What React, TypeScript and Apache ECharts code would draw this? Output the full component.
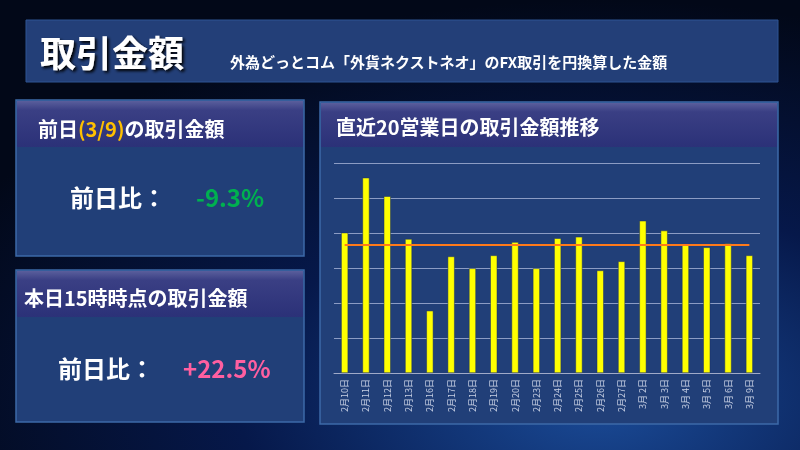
import { useRef, useEffect } from 'react';
import * as echarts from 'echarts';

const categories = [
  '2月10日', '2月11日', '2月12日', '2月13日', '2月16日', '2月17日', '2月18日', '2月19日', '2月20日', '2月23日',
  '2月24日', '2月25日', '2月26日', '2月27日', '3月 2日', '3月 3日', '3月 4日', '3月 5日', '3月 6日', '3月 9日',
];
const amounts = [4.01, 5.58, 5.05, 3.83, 1.78, 3.33, 2.99, 3.36, 3.74, 2.99, 3.85, 3.89, 2.93, 3.19, 4.35, 4.07, 3.67, 3.59, 3.70, 3.36];
const averageValue = 3.66;
const averageLine = categories.map(() => averageValue);

const FONT = '"Noto Sans CJK JP", sans-serif';

function panel(x: number, y: number, w: number, h: number, headH: number) {
  return [
    {
      type: 'rect',
      shape: { x, y, width: w, height: h },
      style: { fill: '#213f78', stroke: '#3c6aa8', lineWidth: 1.5 },
    },
    {
      type: 'rect',
      shape: { x: x + 1, y: y + 1, width: w - 2, height: headH },
      style: {
        fill: new echarts.graphic.LinearGradient(0, 0, 0, 1, [
          { offset: 0, color: '#5a5e9c' },
          { offset: 0.2, color: '#3a3f84' },
          { offset: 1, color: '#2b3178' },
        ]),
      },
    },
  ];
}

export default function App() {
  const chartRef = useRef<HTMLDivElement>(null);
  useEffect(() => {
    let chart: echarts.ECharts | undefined;
    if (chartRef.current) {
      chart = echarts.init(chartRef.current, null, { renderer: 'svg' });
      chart.setOption({
        animation: false,
        backgroundColor: new echarts.graphic.RadialGradient(0.75, 0.9, 0.9, [
          { offset: 0, color: '#1a4a96' },
          { offset: 0.5, color: '#06184a' },
          { offset: 1, color: '#020818' },
        ]),
        graphic: [
          {
            type: 'rect',
            shape: { x: 26, y: 20, width: 752, height: 62 },
            style: { fill: '#233f78', stroke: '#2f5493', lineWidth: 1 },
          },
          {
            type: 'text', x: 40, y: 51,
            style: { text: '取引金額', fill: '#ffffff', font: `bold 36px ${FONT}`, verticalAlign: 'middle', textShadowColor: '#000', textShadowBlur: 3, textShadowOffsetX: 2, textShadowOffsetY: 2 },
          },
          {
            type: 'text', x: 230, y: 61,
            style: { text: '外為どっとコム「外貨ネクストネオ」のFX取引を円換算した金額', fill: '#ffffff', font: `bold 15px ${FONT}`, verticalAlign: 'middle' },
          },
          ...panel(16, 100, 288, 156, 46),
          ...panel(16, 270, 288, 152, 46),
          ...panel(320, 102, 458, 322, 44),
          {
            type: 'text', x: 38, y: 128,
            style: {
              text: '前日{y|(3/9)}の取引金額', fill: '#ffffff', font: `bold 20px ${FONT}`, verticalAlign: 'middle',
              rich: { y: { fill: '#ffc000', font: `bold 20px ${FONT}` } },
            },
          },
          {
            type: 'text', x: 24, y: 297,
            style: { text: '本日15時時点の取引金額', fill: '#ffffff', font: `bold 20px ${FONT}`, verticalAlign: 'middle' },
          },
          {
            type: 'text', x: 336, y: 126,
            style: { text: '直近20営業日の取引金額推移', fill: '#ffffff', font: `bold 20px ${FONT}`, verticalAlign: 'middle' },
          },
          {
            type: 'text', x: 70, y: 196,
            style: { text: '前日比：', fill: '#ffffff', font: `bold 24px ${FONT}`, verticalAlign: 'middle' },
          },
          {
            type: 'text', x: 196, y: 196,
            style: { text: '-9.3%', fill: '#00b050', font: `bold 24px ${FONT}`, verticalAlign: 'middle' },
          },
          {
            type: 'text', x: 58, y: 367,
            style: { text: '前日比：', fill: '#ffffff', font: `bold 24px ${FONT}`, verticalAlign: 'middle' },
          },
          {
            type: 'text', x: 183, y: 367,
            style: { text: '+22.5%', fill: '#ff5fa0', font: `bold 24px ${FONT}`, verticalAlign: 'middle' },
          },
        ],
        grid: { left: 334, top: 163, width: 426, height: 210 },
        xAxis: {
          type: 'category',
          data: categories,
          axisLine: { lineStyle: { color: '#a0aac8' } },
          axisTick: { show: false },
          axisLabel: { rotate: 90, color: '#c8d0e4', fontSize: 9, fontFamily: FONT, interval: 0, margin: 6 },
        },
        yAxis: {
          type: 'value',
          min: 0,
          max: 6,
          interval: 1,
          axisLabel: { show: false },
          axisLine: { show: false },
          splitLine: { lineStyle: { color: '#8c9cc4', width: 1 } },
        },
        series: [
          {
            type: 'bar',
            data: amounts,
            barWidth: 7,
            itemStyle: { color: '#ffff00', borderColor: '#1a2e66', borderWidth: 0.5 },
          },
          {
            type: 'line',
            data: averageLine,
            symbol: 'none',
            lineStyle: { color: '#ff7a1a', width: 2 },
          },
        ],
      });
    }
    return () => {
      chart?.dispose();
    };
  }, []);

  return <div ref={chartRef} style={{ position: 'fixed', left: 0, top: 0, width: 800, height: 450 }} />;
}
